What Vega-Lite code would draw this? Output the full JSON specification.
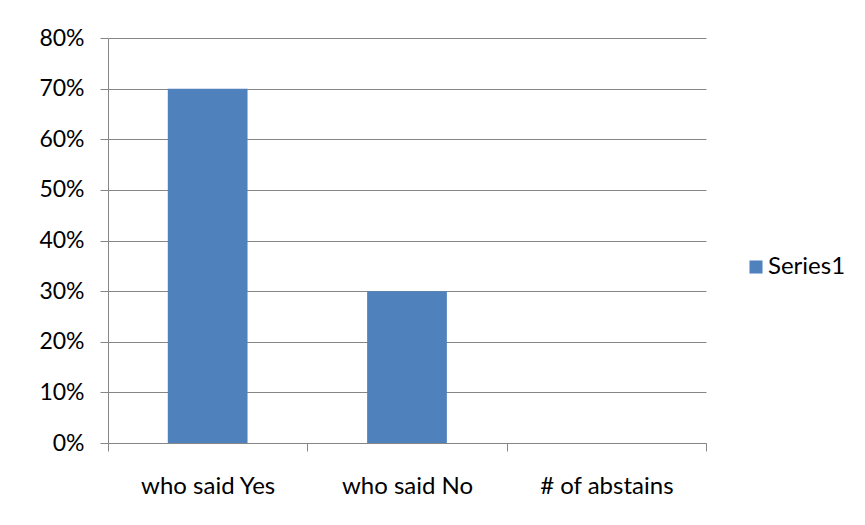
{
  "$schema": "https://vega.github.io/schema/vega-lite/v6.json",
  "autosize": {"type": "none"},
  "width": 598,
  "height": 405,
  "padding": {"left": 108, "top": 38, "right": 159, "bottom": 82},
  "background": "white",
  "config": {
    "view": {"stroke": null},
    "font": "Lato",
    "axis": {"labelFont": "Lato", "labelColor": "#000000", "labelFontSize": 23, "titleFont": "Lato"},
    "legend": {"labelFont": "Lato", "labelFontSize": 23, "labelColor": "#000000"}
  },
  "data": {
    "values": [
      {"category": "who said Yes", "value": 0.70, "series": "Series1"},
      {"category": "who said No", "value": 0.30, "series": "Series1"},
      {"category": "# of abstains", "value": 0.0, "series": "Series1"}
    ]
  },
  "mark": {"type": "bar", "width": {"band": 0.4}},
  "encoding": {
    "x": {
      "field": "category",
      "type": "nominal",
      "sort": null,
      "scale": {"paddingInner": 0, "paddingOuter": 0},
      "axis": {
        "title": null,
        "labelAngle": 0,
        "labelFontSize": 24,
        "tickBand": "extent",
        "tickSize": 8,
        "tickColor": "#868686",
        "domainColor": "#868686",
        "labelPadding": 23,
        "grid": false
      }
    },
    "y": {
      "field": "value",
      "type": "quantitative",
      "scale": {"domain": [0, 0.8], "nice": false},
      "axis": {
        "title": null,
        "values": [0, 0.1, 0.2, 0.3, 0.4, 0.5, 0.6, 0.7, 0.8],
        "format": ".0%",
        "tickSize": 8,
        "tickColor": "#868686",
        "domainColor": "#868686",
        "gridColor": "#868686",
        "grid": true,
        "labelPadding": 16
      }
    },
    "color": {
      "field": "series",
      "type": "nominal",
      "scale": {"range": ["#4F81BD"]},
      "legend": {
        "title": null,
        "orient": "none",
        "legendX": 636,
        "legendY": 217,
        "symbolType": "square",
        "symbolSize": 170,
        "symbolStrokeWidth": 0,
        "labelFontSize": 24,
        "labelOffset": 0,
        "padding": 0
      }
    }
  }
}
